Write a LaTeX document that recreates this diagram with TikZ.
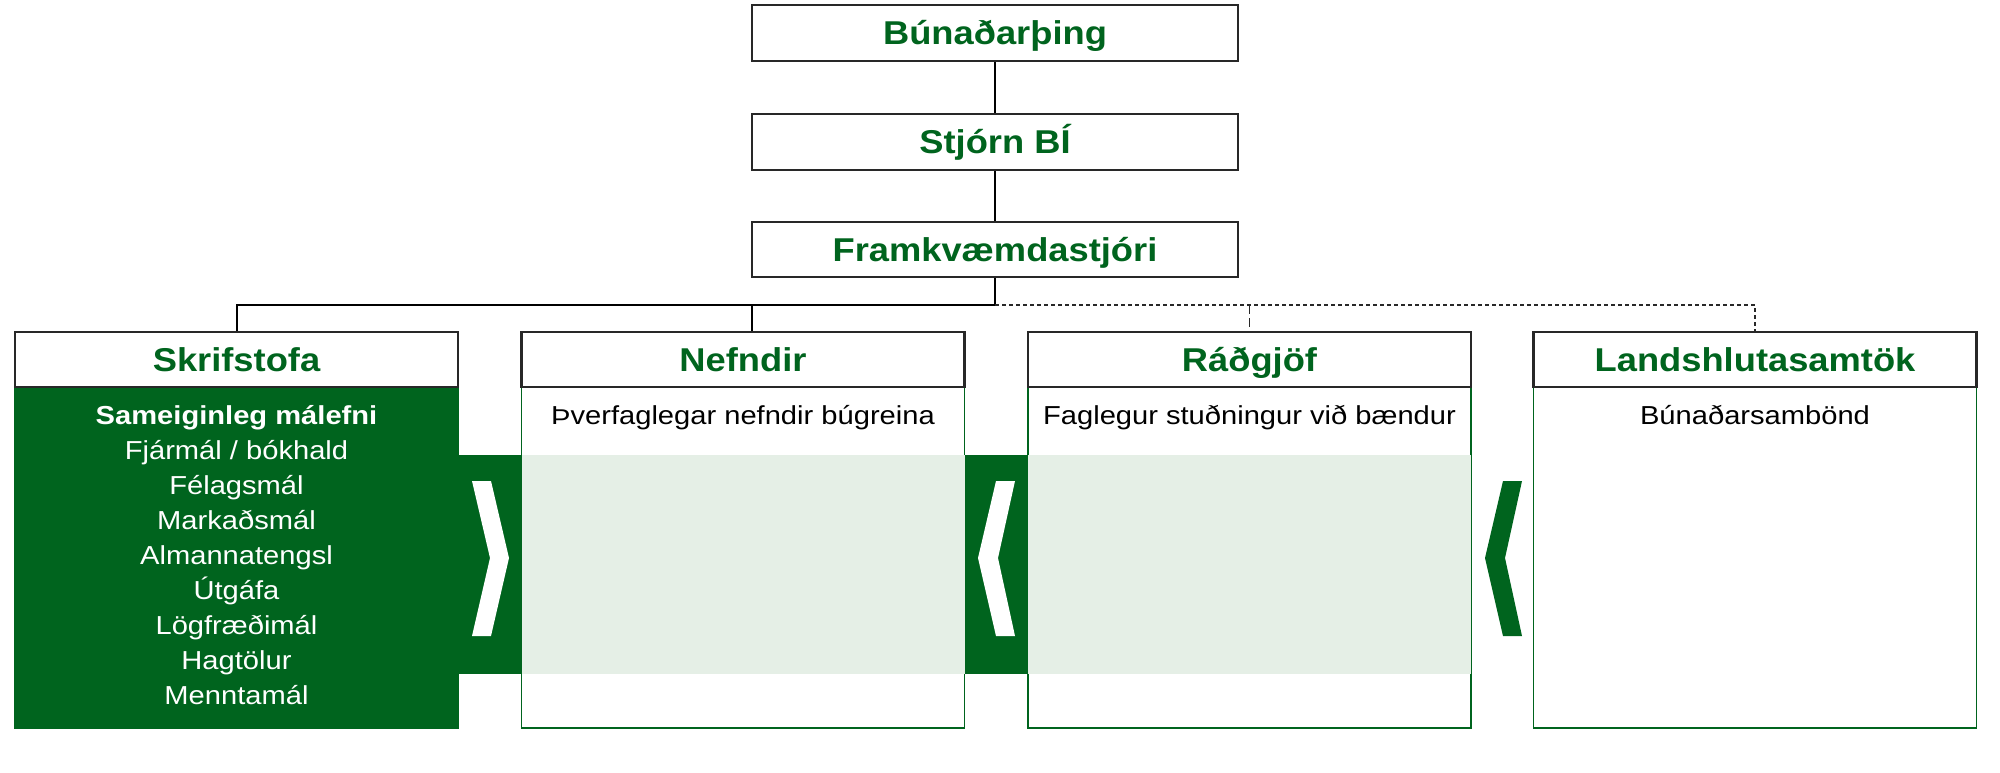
\documentclass[tikz,border=0pt]{standalone}
\usepackage{fontspec}
\setmainfont{Liberation Sans}
\newfontfamily\hdrfont[FakeStretch=1.1]{Liberation Sans}
\newfontfamily\bodyfont[FakeStretch=1.12]{Liberation Sans}
\definecolor{bgreen}{RGB}{0,100,30}
\definecolor{lgreen}{RGB}{229,239,230}
\definecolor{edge}{RGB}{40,40,40}
\begin{document}
\begin{tikzpicture}[x=1pt,y=-1pt,
  boxtext/.style={font=\hdrfont\bfseries\fontsize{33}{36}\selectfont, text=bgreen, text height=23pt, text depth=0pt},
  topbox/.style={boxtext, draw=edge, line width=2.2pt, fill=white, minimum width=486pt, minimum height=56pt, inner sep=0pt},
  headbox/.style={boxtext, draw=edge, line width=2.2pt, fill=white, minimum width=443pt, minimum height=55pt, inner sep=0pt},
  bodybox/.style={draw=bgreen, line width=1.5pt, fill=white, minimum width=443pt, minimum height=341pt, inner sep=0pt},
  bodytext/.style={font=\bodyfont\fontsize{26}{30}\selectfont, anchor=base, inner sep=0pt},
  conn/.style={line width=2pt, draw=black},
  dotconn/.style={line width=2pt, draw=edge, dash pattern=on 4pt off 3pt},
  dashconn/.style={line width=1.6pt, draw=edge, dash pattern=on 9pt off 4pt},
]
\useasboundingbox (0,0) rectangle (2000,772);
\fill[white] (0,0) rectangle (2000,772);

\coordinate (bandtop) at (0,455);
\coordinate (bandbot) at (0,674);
\coordinate (hbar) at (0,305);
\coordinate (nefdrop) at (752,305);

% bodies
\node[bodybox, fill=bgreen] (skrifb) at (236.5,557.5) {};
\node[bodybox] (nefb) at (743,557.5) {};
\node[bodybox] (radb) at (1249.5,557.5) {};
\node[bodybox] (landb) at (1755,557.5) {};

% bands
\fill[bgreen] (skrifb.east |- bandtop) rectangle (nefb.west |- bandbot);
\fill[bgreen] (nefb.east |- bandtop) rectangle (radb.west |- bandbot);
\fill[lgreen] ([xshift=0.75pt]nefb.west |- bandtop) rectangle ([xshift=-0.75pt]nefb.east |- bandbot);
\fill[lgreen] ([xshift=0.75pt]radb.west |- bandtop) rectangle ([xshift=-0.75pt]radb.east |- bandbot);

% chevrons
\fill[white] (472,481) -- (491,481) -- (509,558) -- (491,636) -- (472,636) -- (490,558) -- cycle;
\fill[white] (996,481) -- (1015,481) -- (998,558) -- (1015,636) -- (996,636) -- (978,558) -- cycle;
\fill[bgreen] (1503,481) -- (1522,481) -- (1505,558) -- (1522,636) -- (1503,636) -- (1485,558) -- cycle;

% top boxes
\node[topbox] (bunad) at (995,33) {Búnaðarþing};
\node[topbox] (stjorn) at (995,142) {Stjórn BÍ};
\node[topbox, minimum height=55pt] (framk) at (995,249.5) {Framkvæmdastjóri};

% header boxes
\node[headbox] (skrifh) at (236.5,359.5) {Skrifstofa};
\node[headbox] (nefh) at (743,359.5) {Nefndir};
\node[headbox] (radh) at (1249.5,359.5) {Ráðgjöf};
\node[headbox] (landh) at (1755,359.5) {Landshlutasamtök};

% connectors
\draw[conn] (bunad) -- (stjorn);
\draw[conn] (stjorn) -- (framk);
\draw[conn] (framk.south) -- (framk.south |- hbar) -| (skrifh.north);
\draw[conn] (nefdrop) -- (nefdrop |- nefh.north);
\draw[dotconn] (framk.south |- hbar) -| (landh.north);
\draw[dashconn] (radh.north |- hbar) -- (radh.north);

% body texts
\node[bodytext, text=white, font=\bodyfont\bfseries\fontsize{26}{30}\selectfont] (skl0) at (236.5,424) {Sameiginleg málefni};
\foreach \t [count=\i] in {Fjármál / bókhald, Félagsmál, Markaðsmál, Almannatengsl, Útgáfa, Lögfræðimál, Hagtölur, Menntamál}
  \node[bodytext, text=white] (skl\i) at (236.5,{424+35*\i}) {\t};
\node[bodytext] (neft) at (743,424) {Þverfaglegar nefndir búgreina};
\node[bodytext] (radt) at (1249.5,424) {Faglegur stuðningur við bændur};
\node[bodytext] (landt) at (1755,424) {Búnaðarsambönd};
\end{tikzpicture}
\end{document}
